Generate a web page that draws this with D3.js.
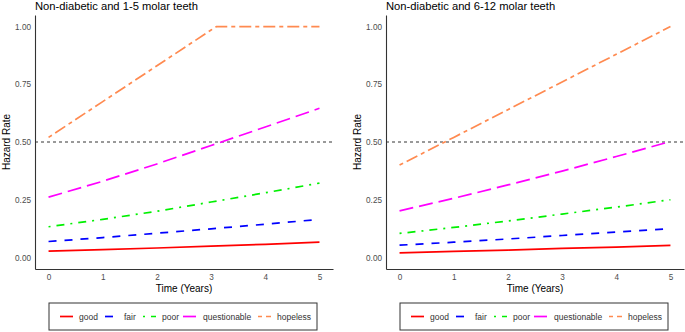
<!DOCTYPE html>
<html>
<head>
<meta charset="utf-8">
<script src="https://cdn.jsdelivr.net/npm/d3@7"></script>
<style>
  body { margin: 0; background: #fff; }
  svg { font-family: "Liberation Sans", Arial, sans-serif; }
</style>
</head>
<body>
<div id="chart"></div>
<script>
// Categories and series.
const years = [0, 1, 2, 3, 4, 5];
const yTicks = [0, 0.25, 0.5, 0.75, 1];
const levels = ["good", "fair", "poor", "questionable", "hopeless"];
const colors = ["#FF0000", "#0000FF", "#00F000", "#FF00FF", "#FF8A50"];
const dashes = ["none", "8,8", "2,6,8,6", "14,6", "4,4,12,4"];

// Panel 1: non-diabetic, 1-5 molar teeth
const p1Good = [0.027, 0.034, 0.041, 0.049, 0.057, 0.066];
const p1Fair = [0.069, 0.086, 0.105, 0.124, 0.144, 0.165];
const p1Poor = [0.133, 0.165, 0.200, 0.240, 0.280, 0.322];
const p1Quest = [0.261, 0.330, 0.405, 0.485, 0.565, 0.646];
const p1HopeYears = [0, 1, 2, 3, 3.1, 4, 5];
const p1Hope = [0.520, 0.675, 0.830, 0.985, 1.0, 1.0, 1.0];

// Panel 2: non-diabetic, 6-12 molar teeth
const p2Good = [0.020, 0.026, 0.032, 0.039, 0.045, 0.052];
const p2Fair = [0.053, 0.066, 0.080, 0.095, 0.110, 0.125];
const p2Poor = [0.104, 0.130, 0.158, 0.188, 0.218, 0.250];
const p2Quest = [0.202, 0.256, 0.314, 0.374, 0.437, 0.502];
const p2Hope = [0.400, 0.520, 0.640, 0.760, 0.880, 1.000];

const panels = [
  {
    title: "Non-diabetic and 1-5 molar teeth",
    left: 35,
    series: [
      { x: years, y: p1Good }, { x: years, y: p1Fair }, { x: years, y: p1Poor },
      { x: years, y: p1Quest }, { x: p1HopeYears, y: p1Hope }
    ]
  },
  {
    title: "Non-diabetic and 6-12 molar teeth",
    left: 386,
    series: [
      { x: years, y: p2Good }, { x: years, y: p2Fair }, { x: years, y: p2Poor },
      { x: years, y: p2Quest }, { x: years, y: p2Hope }
    ]
  }
];

const svg = d3.select("#chart").append("svg")
  .attr("width", 685)
  .attr("height", 332);

const plotW = 298, plotTop = 15, plotBottom = 269;

panels.forEach(p => {
  const g = svg.append("g").attr("transform", `translate(${p.left},0)`);

  const x = d3.scaleLinear().domain([-0.25, 5.25]).range([0, plotW]);
  const y = d3.scaleLinear().domain([-0.05, 1.05]).range([plotBottom, plotTop]);

  // reference line at 0.5
  g.append("line")
    .attr("x1", 0).attr("x2", plotW)
    .attr("y1", y(0.5)).attr("y2", y(0.5))
    .attr("stroke", "#000").attr("stroke-width", 0.8)
    .attr("stroke-dasharray", "3,3");

  const line = d3.line().x(d => x(d[0])).y(d => y(d[1]));
  p.series.forEach((s, i) => {
    g.append("path")
      .datum(s.x.map((t, j) => [t, s.y[j]]))
      .attr("d", line)
      .attr("fill", "none")
      .attr("stroke", colors[i])
      .attr("stroke-width", 1.7)
      .attr("stroke-dasharray", dashes[i]);
  });

  // axes
  const xAxis = g.append("g")
    .attr("transform", `translate(0,${plotBottom})`)
    .call(d3.axisBottom(x).tickValues(years).tickSize(0).tickPadding(5).tickFormat(d3.format("d")));
  const yAxis = g.append("g")
    .call(d3.axisLeft(y).tickValues(yTicks).tickSize(0).tickPadding(4).tickFormat(d3.format(".2f")));
  [xAxis, yAxis].forEach(a => {
    a.select(".domain").attr("stroke", "#333").attr("stroke-width", 1.1);
    a.selectAll("text").attr("fill", "#4d4d4d").style("font-size", "8.2px").style("font-family", "Liberation Sans, Arial, sans-serif");
  });

  // titles
  g.append("text")
    .attr("x", 0).attr("y", 10)
    .style("font-size", "11.2px")
    .attr("fill", "#000")
    .text(p.title);

  g.append("text")
    .attr("x", plotW / 2).attr("y", 292)
    .attr("text-anchor", "middle")
    .style("font-size", "10px")
    .text("Time (Years)");

  g.append("text")
    .attr("transform", `translate(-25,${(plotTop + plotBottom) / 2}) rotate(-90)`)
    .attr("text-anchor", "middle")
    .style("font-size", "10px")
    .text("Hazard Rate");

  // legend
  const lg = g.append("g").attr("transform", "translate(14,303)");
  lg.append("rect")
    .attr("width", 268).attr("height", 27)
    .attr("fill", "#fff").attr("stroke", "#333").attr("stroke-width", 1);
  const keyX = [11, 56, 94, 134, 209];
  levels.forEach((lvl, i) => {
    lg.append("line")
      .attr("x1", keyX[i]).attr("x2", keyX[i] + 13)
      .attr("y1", 13.5).attr("y2", 13.5)
      .attr("stroke", colors[i]).attr("stroke-width", 1.7)
      .attr("stroke-dasharray", dashes[i]);
    lg.append("text")
      .attr("x", keyX[i] + (lvl === "questionable" ? 20 : 19)).attr("y", 16.5)
      .style("font-size", "8.5px")
      .attr("fill", "#333")
      .text(lvl);
  });
});
</script>
</body>
</html>
